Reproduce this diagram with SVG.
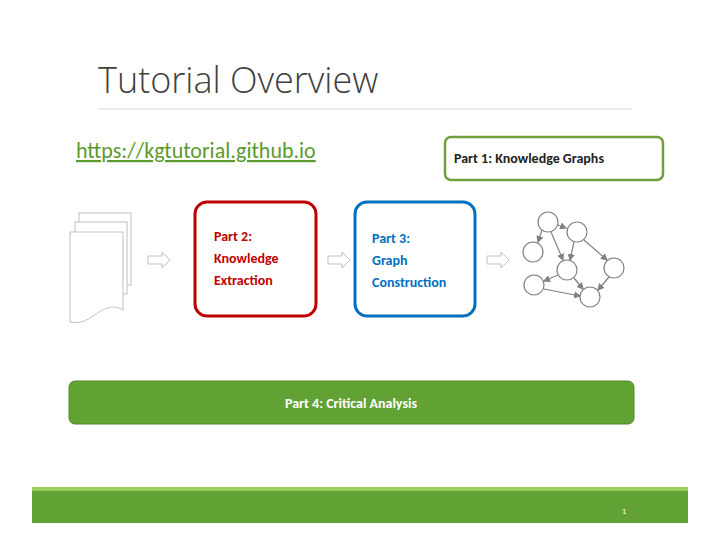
<svg xmlns="http://www.w3.org/2000/svg" width="720" height="557" viewBox="0 0 720 557">
<style>
text{font-family:Calibri,"Liberation Sans",sans-serif}
.b{font-weight:bold;font-size:14px}
.pg{fill:#fff;stroke:#bfbfbf;stroke-width:1}
.gn{fill:#fff;stroke:#808080;stroke-width:1.2}
.ge{stroke:#808080;stroke-width:1.2;fill:none;marker-end:url(#ah)}
.ba{fill:#fff;stroke:#bfbfbf;stroke-width:1}
</style>
<defs><marker id="ah" markerWidth="6" markerHeight="6" refX="5" refY="3" orient="auto"><path d="M0,0L6,3L0,6z" fill="#808080"/></marker></defs>
<rect width="720" height="557" fill="#fff"/>
<g id="title"><text x="98" y="93" font-size="36" fill="#404040" style="font-family:'Open Sans','Liberation Sans',sans-serif;font-weight:300">Tutorial Overview</text>
<line x1="98" y1="109" x2="632" y2="109" stroke="#d9d9d9" stroke-width="1"/></g>
<g id="url"><text x="76" y="158" font-size="22" fill="#5b9a2e" text-decoration="underline">https://kgtutorial.github.io</text></g>
<g id="part1"><rect x="445" y="137" width="218" height="43" rx="6" fill="#fff" stroke="#70a03c" stroke-width="2.5"/><text x="454" y="163" class="b" fill="#222">Part 1: Knowledge Graphs</text></g>
<g id="docs">
<rect class="pg" x="79" y="213" width="52" height="72"/>
<rect class="pg" x="75" y="222" width="52" height="72"/>
<path class="pg" d="M70,232H123V310C110,302 100,312 90,318C82,323 76,323 70,322Z"/>
</g>
<g id="part2"><rect x="195" y="202" width="121" height="114" rx="12" fill="#fff" stroke="#c00000" stroke-width="3"/><text class="b" fill="#c00000"><tspan x="214" y="241">Part 2:</tspan><tspan x="214" y="263">Knowledge</tspan><tspan x="214" y="285">Extraction</tspan></text></g>
<g id="part3"><rect x="355" y="202" width="120" height="114" rx="12" fill="#fff" stroke="#0070c0" stroke-width="3"/><text class="b" fill="#0070c0"><tspan x="372" y="243">Part 3:</tspan><tspan x="372" y="265">Graph</tspan><tspan x="372" y="287">Construction</tspan></text></g>
<g id="graph">
<g id="edges">
<line class="ge" x1="558" y1="225" x2="566" y2="228"/>
<line class="ge" x1="542" y1="230" x2="538" y2="242"/>
<line class="ge" x1="551" y1="232" x2="563" y2="260"/>
<line class="ge" x1="574" y1="242" x2="570" y2="260"/>
<line class="ge" x1="584" y1="240" x2="607" y2="260"/>
<line class="ge" x1="558" y1="275" x2="544" y2="281"/>
<line class="ge" x1="574" y1="278" x2="583" y2="289"/>
<line class="ge" x1="544" y1="289" x2="580" y2="296"/>
<line class="ge" x1="609" y1="277" x2="598" y2="290"/>
</g>
<circle class="gn" cx="548" cy="222" r="10"/>
<circle class="gn" cx="577" cy="232" r="10"/>
<circle class="gn" cx="533" cy="252" r="10"/>
<circle class="gn" cx="567" cy="270" r="10"/>
<circle class="gn" cx="614" cy="268" r="10"/>
<circle class="gn" cx="534" cy="285" r="10"/>
<circle class="gn" cx="590" cy="297" r="10"/>
</g>
<g id="connectors">
<path class="ba" d="M148,256H162V252L170,260L162,268V264H148Z"/>
<path class="ba" d="M328,256H342V252L350,260L342,268V264H328Z"/>
<path class="ba" d="M487,256H501V252L509,260L501,268V264H487Z"/>
</g>
<g id="part4"><rect x="69" y="381" width="565" height="43" rx="6" fill="#62a234" stroke="#4e8a28" stroke-width="1"/><text x="351" y="408" class="b" fill="#fff" text-anchor="middle">Part 4: Critical Analysis</text></g>
<g id="footer"><rect x="32" y="487" width="656" height="36" fill="#62a234"/><rect x="32" y="487" width="656" height="4" fill="#9acd5a"/><text x="624" y="514" font-size="9" fill="#fff" text-anchor="middle">1</text></g>
</svg>
